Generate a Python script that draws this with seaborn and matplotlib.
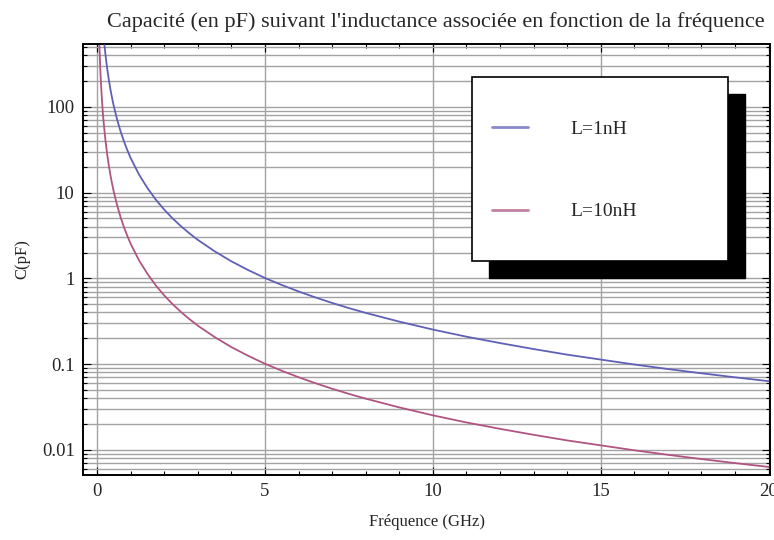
import matplotlib
matplotlib.use("Agg")
import matplotlib.pyplot as plt
import matplotlib.ticker as mticker
from matplotlib.patches import Rectangle
import seaborn as sns
import pandas as pd

# valeurs : fréquence (GHz) -> capacité (pF)
freq_1nH = [0.22, 0.25, 0.3, 0.35, 0.4, 0.45, 0.5, 0.6, 0.7, 0.8, 0.9,
            1.0, 1.25, 1.5, 1.75, 2.0, 2.25, 2.5, 2.75, 3.0, 3.5, 4.0, 4.5, 5.0, 5.5, 6.0,
            6.5, 7.0, 7.5, 8.0, 9.0, 10.0, 11.0, 12.0, 13.0, 14.0, 15.0, 16.0, 17.0, 18.0,
            19.0, 20.0]
cap_1nH = [523, 405, 281, 207, 158, 125, 101, 70.4, 51.7, 39.6, 31.3,
           25.3, 16.2, 11.3, 8.27, 6.33, 5.00, 4.05, 3.35, 2.81, 2.07, 1.58, 1.25, 1.01,
           0.837, 0.704, 0.600, 0.517, 0.450, 0.396, 0.313, 0.253, 0.209, 0.176, 0.150,
           0.129, 0.113, 0.099, 0.0877, 0.0782, 0.0702, 0.0633]

freq_10nH = [0.07, 0.08, 0.09, 0.1, 0.11, 0.12, 0.14, 0.16, 0.18, 0.2, 0.25, 0.3, 0.35,
             0.4, 0.45, 0.5, 0.6, 0.7, 0.8, 0.9,
             1.0, 1.25, 1.5, 1.75, 2.0, 2.25, 2.5, 2.75, 3.0, 3.5, 4.0, 4.5, 5.0, 5.5, 6.0,
             6.5, 7.0, 7.5, 8.0, 9.0, 10.0, 11.0, 12.0, 13.0, 14.0, 15.0, 16.0, 17.0, 18.0,
             19.0, 20.0]
cap_10nH = [517, 396, 313, 253, 209, 176, 129, 99, 78.2, 63.3, 40.5, 28.1, 20.7,
            15.8, 12.5, 10.1, 7.04, 5.17, 3.96, 3.13,
            2.53, 1.62, 1.13, 0.827, 0.633, 0.500, 0.405, 0.335, 0.281, 0.207, 0.158,
            0.125, 0.101, 0.0837, 0.0704, 0.0600, 0.0517, 0.0450, 0.0396, 0.0313, 0.0253,
            0.0209, 0.0176, 0.0150, 0.0129, 0.0113, 0.0099, 0.00877, 0.00782, 0.00702,
            0.00633]

labels = ["L=1nH", "L=10nH"]
colors = ["#6060b6", "#b05582"]

df = pd.concat([
    pd.DataFrame({"f": freq_1nH, "C": cap_1nH, "serie": labels[0]}),
    pd.DataFrame({"f": freq_10nH, "C": cap_10nH, "serie": labels[1]}),
], ignore_index=True)

sns.set_style("ticks")
plt.rcParams["font.family"] = ["Liberation Serif", "DejaVu Serif"]

fig = plt.figure(figsize=(7.74, 5.40), dpi=100)
ax = fig.add_axes([0.1072, 0.1204, 0.888, 0.7981])

sns.lineplot(data=df, x="f", y="C", hue="serie", palette=colors, sort=False,
             estimator=None, linewidth=1.3, ax=ax, legend=False, zorder=3)

ax.set_yscale("log")
ax.set_xlim(-0.42, 20.05)
ax.set_ylim(0.0051, 540)

ax.xaxis.set_major_locator(mticker.MultipleLocator(5))
ax.xaxis.set_minor_locator(mticker.MultipleLocator(1))
ax.yaxis.set_major_locator(mticker.LogLocator(base=10, numticks=10))
ax.yaxis.set_minor_locator(mticker.LogLocator(base=10, subs=range(2, 10), numticks=20))
ax.yaxis.set_major_formatter(mticker.FuncFormatter(lambda v, p: f"{v:g}"))
ax.yaxis.set_minor_formatter(mticker.NullFormatter())

ax.tick_params(which="both", direction="in", top=True, right=True, width=0.8,
               color="black", labelsize=13.5, pad=6)
ax.tick_params(which="major", length=6)
ax.tick_params(which="minor", length=3)

ax.grid(axis="y", which="both", color="#a3a3a3", linewidth=1.0)
ax.grid(axis="x", which="major", color="#a3a3a3", linewidth=1.0)
ax.set_axisbelow(True)
fig.canvas.draw()
ax.xaxis.get_gridlines()[0].set_visible(False)

for s in ax.spines.values():
    s.set_linewidth(1.4)
    s.set_color("black")

ax.set_title("Capacité (en pF) suivant l'inductance associée en fonction de la fréquence",
             fontsize=16, pad=12, x=0.513)
ax.set_xlabel("Fréquence (GHz)", fontsize=12, labelpad=10)
ax.set_ylabel("C(pF)", fontsize=12, labelpad=8)

# cadre de légende avec ombre noire
x0, y0, w, h = 0.566, 0.4965, 0.373, 0.4265
ax.add_patch(Rectangle((x0 + 0.0247, y0 - 0.0394), w, h, transform=ax.transAxes,
                       facecolor="black", edgecolor="black", zorder=6, clip_on=False))
ax.add_patch(Rectangle((x0, y0), w, h, transform=ax.transAxes, facecolor="white",
                       edgecolor="black", linewidth=1.2, zorder=7, clip_on=False))

handles = [plt.Line2D([], [], color=c, linewidth=2, alpha=0.75) for c in colors]
leg = ax.legend(handles, labels, loc="center left", bbox_to_anchor=(0.595, 0.707),
                frameon=False, fontsize=14, handlelength=1.85, handletextpad=2.2,
                labelspacing=3.35, borderpad=0, borderaxespad=0)
leg.set_zorder(8)

fig.savefig("out.png", dpi=100)
